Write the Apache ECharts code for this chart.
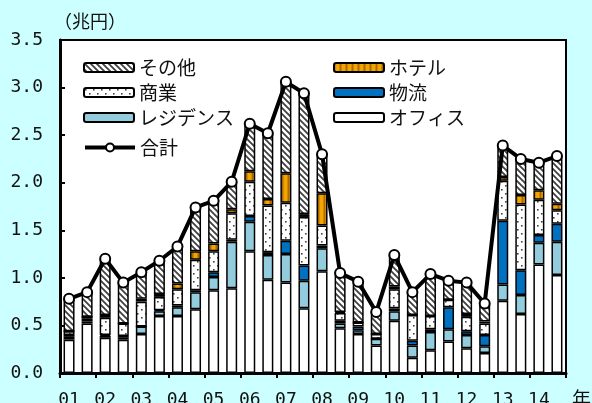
<!DOCTYPE html>
<html>
<head>
<meta charset="utf-8">
<script src="https://cdn.jsdelivr.net/npm/echarts@6/dist/echarts.min.js"></script>
<style>
  html, body { margin: 0; padding: 0; background: #ccffff; }
  #chart { width: 592px; height: 403px; }
</style>
</head>
<body>
<div id="chart"></div>
<script>
// Half-yearly transaction volume (兆円), 2001H1 .. 2014H2
const years = ['01','02','03','04','05','06','07','08','09','10','11','12','13','14'];

const office    = [0.35,0.52,0.37,0.35,0.41,0.60,0.60,0.67,0.87,0.89,1.28,0.98,0.95,0.68,1.07,0.47,0.41,0.29,0.55,0.16,0.24,0.33,0.26,0.21,0.76,0.62,1.14,1.03];
const residence = [0.03,0.02,0.02,0.02,0.08,0.05,0.09,0.18,0.14,0.49,0.31,0.26,0.30,0.29,0.24,0.05,0.04,0.07,0.10,0.13,0.19,0.13,0.14,0.07,0.17,0.20,0.23,0.35];
const logistics = [0.02,0.03,0.01,0.02,0.00,0.01,0.02,0.02,0.05,0.02,0.06,0.03,0.14,0.16,0.03,0.03,0.04,0.00,0.03,0.05,0.03,0.23,0.04,0.12,0.67,0.26,0.08,0.19];
const retail    = [0.04,0.02,0.18,0.13,0.26,0.14,0.17,0.32,0.22,0.28,0.36,0.49,0.40,0.51,0.21,0.08,0.04,0.05,0.20,0.27,0.14,0.08,0.15,0.12,0.42,0.69,0.37,0.14];
const hotel     = [0.00,0.00,0.03,0.00,0.03,0.03,0.06,0.09,0.08,0.04,0.11,0.07,0.31,0.03,0.34,0.01,0.00,0.00,0.03,0.00,0.00,0.00,0.03,0.02,0.04,0.10,0.10,0.07];
const others    = [0.34,0.26,0.59,0.43,0.28,0.35,0.39,0.46,0.45,0.29,0.50,0.69,0.96,1.27,0.41,0.41,0.43,0.23,0.33,0.24,0.44,0.20,0.33,0.19,0.33,0.38,0.29,0.50];
const total     = [0.78,0.85,1.20,0.95,1.06,1.18,1.33,1.74,1.81,2.01,2.62,2.52,3.06,2.94,2.30,1.05,0.96,0.64,1.24,0.85,1.04,0.97,0.95,0.73,2.39,2.25,2.21,2.28];

const yTicks = { min: 0, max: 3.5, step: 0.5 };

// two categories per year: first and second half
const categories = years.flatMap(y => [y + '上', y + '下']);

// --- fill patterns ---
function makeTile(w, h, draw) {
  const c = document.createElement('canvas');
  c.width = w; c.height = h;
  draw(c.getContext('2d'), w, h);
  return { image: c, repeat: 'repeat' };
}
const hatchFill = makeTile(6, 6, (g, w, h) => {
  g.fillStyle = '#ffffff'; g.fillRect(0, 0, w, h);
  g.strokeStyle = '#404040'; g.lineWidth = 1.8;
  g.beginPath();
  g.moveTo(-1, -1); g.lineTo(w + 1, h + 1);
  g.moveTo(-1, h - 1); g.lineTo(1, h + 1);
  g.moveTo(w - 1, -1); g.lineTo(w + 1, 1);
  g.stroke();
});
const dotFill = makeTile(8, 8, (g, w, h) => {
  g.fillStyle = '#ffffff'; g.fillRect(0, 0, w, h);
  g.fillStyle = '#444444';
  g.fillRect(1, 1, 1.6, 1.6);
  g.fillRect(5, 5, 1.6, 1.6);
});
const hotelFill = makeTile(6, 2, (g, w, h) => {
  g.fillStyle = '#f2a400'; g.fillRect(0, 0, w, h);
  g.fillStyle = '#a86a00'; g.fillRect(0, 0, 1, h);
  g.fillStyle = '#d08800'; g.fillRect(1, 0, 1, h);
  g.fillStyle = '#d08800'; g.fillRect(5, 0, 1, h);
});

const FONT_JP = '"Noto Sans CJK JP", sans-serif';
const FONT_NUM = '"DejaVu Sans Mono", monospace';

function barSeries(name, data, fill) {
  return {
    name, type: 'bar', stack: 'vol', data,
    barWidth: 11,
    itemStyle: { color: fill, borderColor: '#000', borderWidth: 1.5 },
    emphasis: { disabled: true },
    animation: false
  };
}

const legendText = { fontFamily: FONT_JP, fontSize: 19, color: '#111', lineHeight: 19 };
const legendBase = {
  orient: 'vertical', itemWidth: 50, itemHeight: 9, itemGap: 6,
  textStyle: legendText, selectedMode: false
};

const option = {
  backgroundColor: '#ccffff',
  animation: false,
  grid: {
    left: 60, right: 26, top: 40, bottom: 30,
    outerBoundsMode: 'none', containLabel: false,
    show: true, backgroundColor: '#ffffff', borderColor: '#000', borderWidth: 2
  },
  legend: [
    Object.assign({}, legendBase, { left: 78, top: 53, data: ['その他', '商業', 'レジデンス'] }),
    Object.assign({}, legendBase, {
      left: 78, top: 133, data: ['合計'], itemHeight: 10,
      lineStyle: { width: 4, color: '#000' }
    }),
    Object.assign({}, legendBase, { left: 328, top: 53, data: ['ホテル', '物流', 'オフィス'] })
  ],
  xAxis: {
    type: 'category', data: categories, boundaryGap: true,
    axisLine: { lineStyle: { color: '#000', width: 3 } },
    axisTick: { show: true, interval: 1, length: 5, inside: false, lineStyle: { color: '#000', width: 2 } },
    axisLabel: {
      interval: 1, margin: 18, fontFamily: FONT_NUM, fontSize: 18, color: '#111',
      formatter: v => v.slice(0, 2)
    },
    splitLine: { show: false }
  },
  yAxis: {
    type: 'value', min: yTicks.min, max: yTicks.max, interval: yTicks.step,
    axisLine: { show: true, lineStyle: { color: '#000', width: 3 } },
    axisTick: { show: true, inside: true, length: 5, lineStyle: { color: '#000', width: 2 } },
    axisLabel: {
      margin: 17, fontFamily: FONT_NUM, fontSize: 18, color: '#111',
      formatter: v => v.toFixed(1)
    },
    splitLine: { show: false }
  },
  graphic: [
    { type: 'text', left: 54, top: 12, style: { text: '（兆円）', font: '18px "Noto Sans CJK JP"', fill: '#111' } },
    { type: 'text', left: 572, top: 389, style: { text: '年', font: '19px "Noto Sans CJK JP"', fill: '#111' } }
  ],
  series: [
    barSeries('オフィス', office, '#ffffff'),
    barSeries('レジデンス', residence, '#93cddd'),
    barSeries('物流', logistics, '#0070c0'),
    barSeries('商業', retail, dotFill),
    barSeries('ホテル', hotel, hotelFill),
    barSeries('その他', others, hatchFill),
    {
      name: '合計', type: 'line', data: total, z: 5,
      symbol: 'circle', symbolSize: 10,
      lineStyle: { color: '#000', width: 4 },
      itemStyle: { color: '#ffffff', borderColor: '#000', borderWidth: 2 },
      emphasis: { disabled: true },
      animation: false
    }
  ]
};

const chart = echarts.init(document.getElementById('chart'), null, { renderer: 'canvas' });
chart.setOption(option);
</script>
</body>
</html>
